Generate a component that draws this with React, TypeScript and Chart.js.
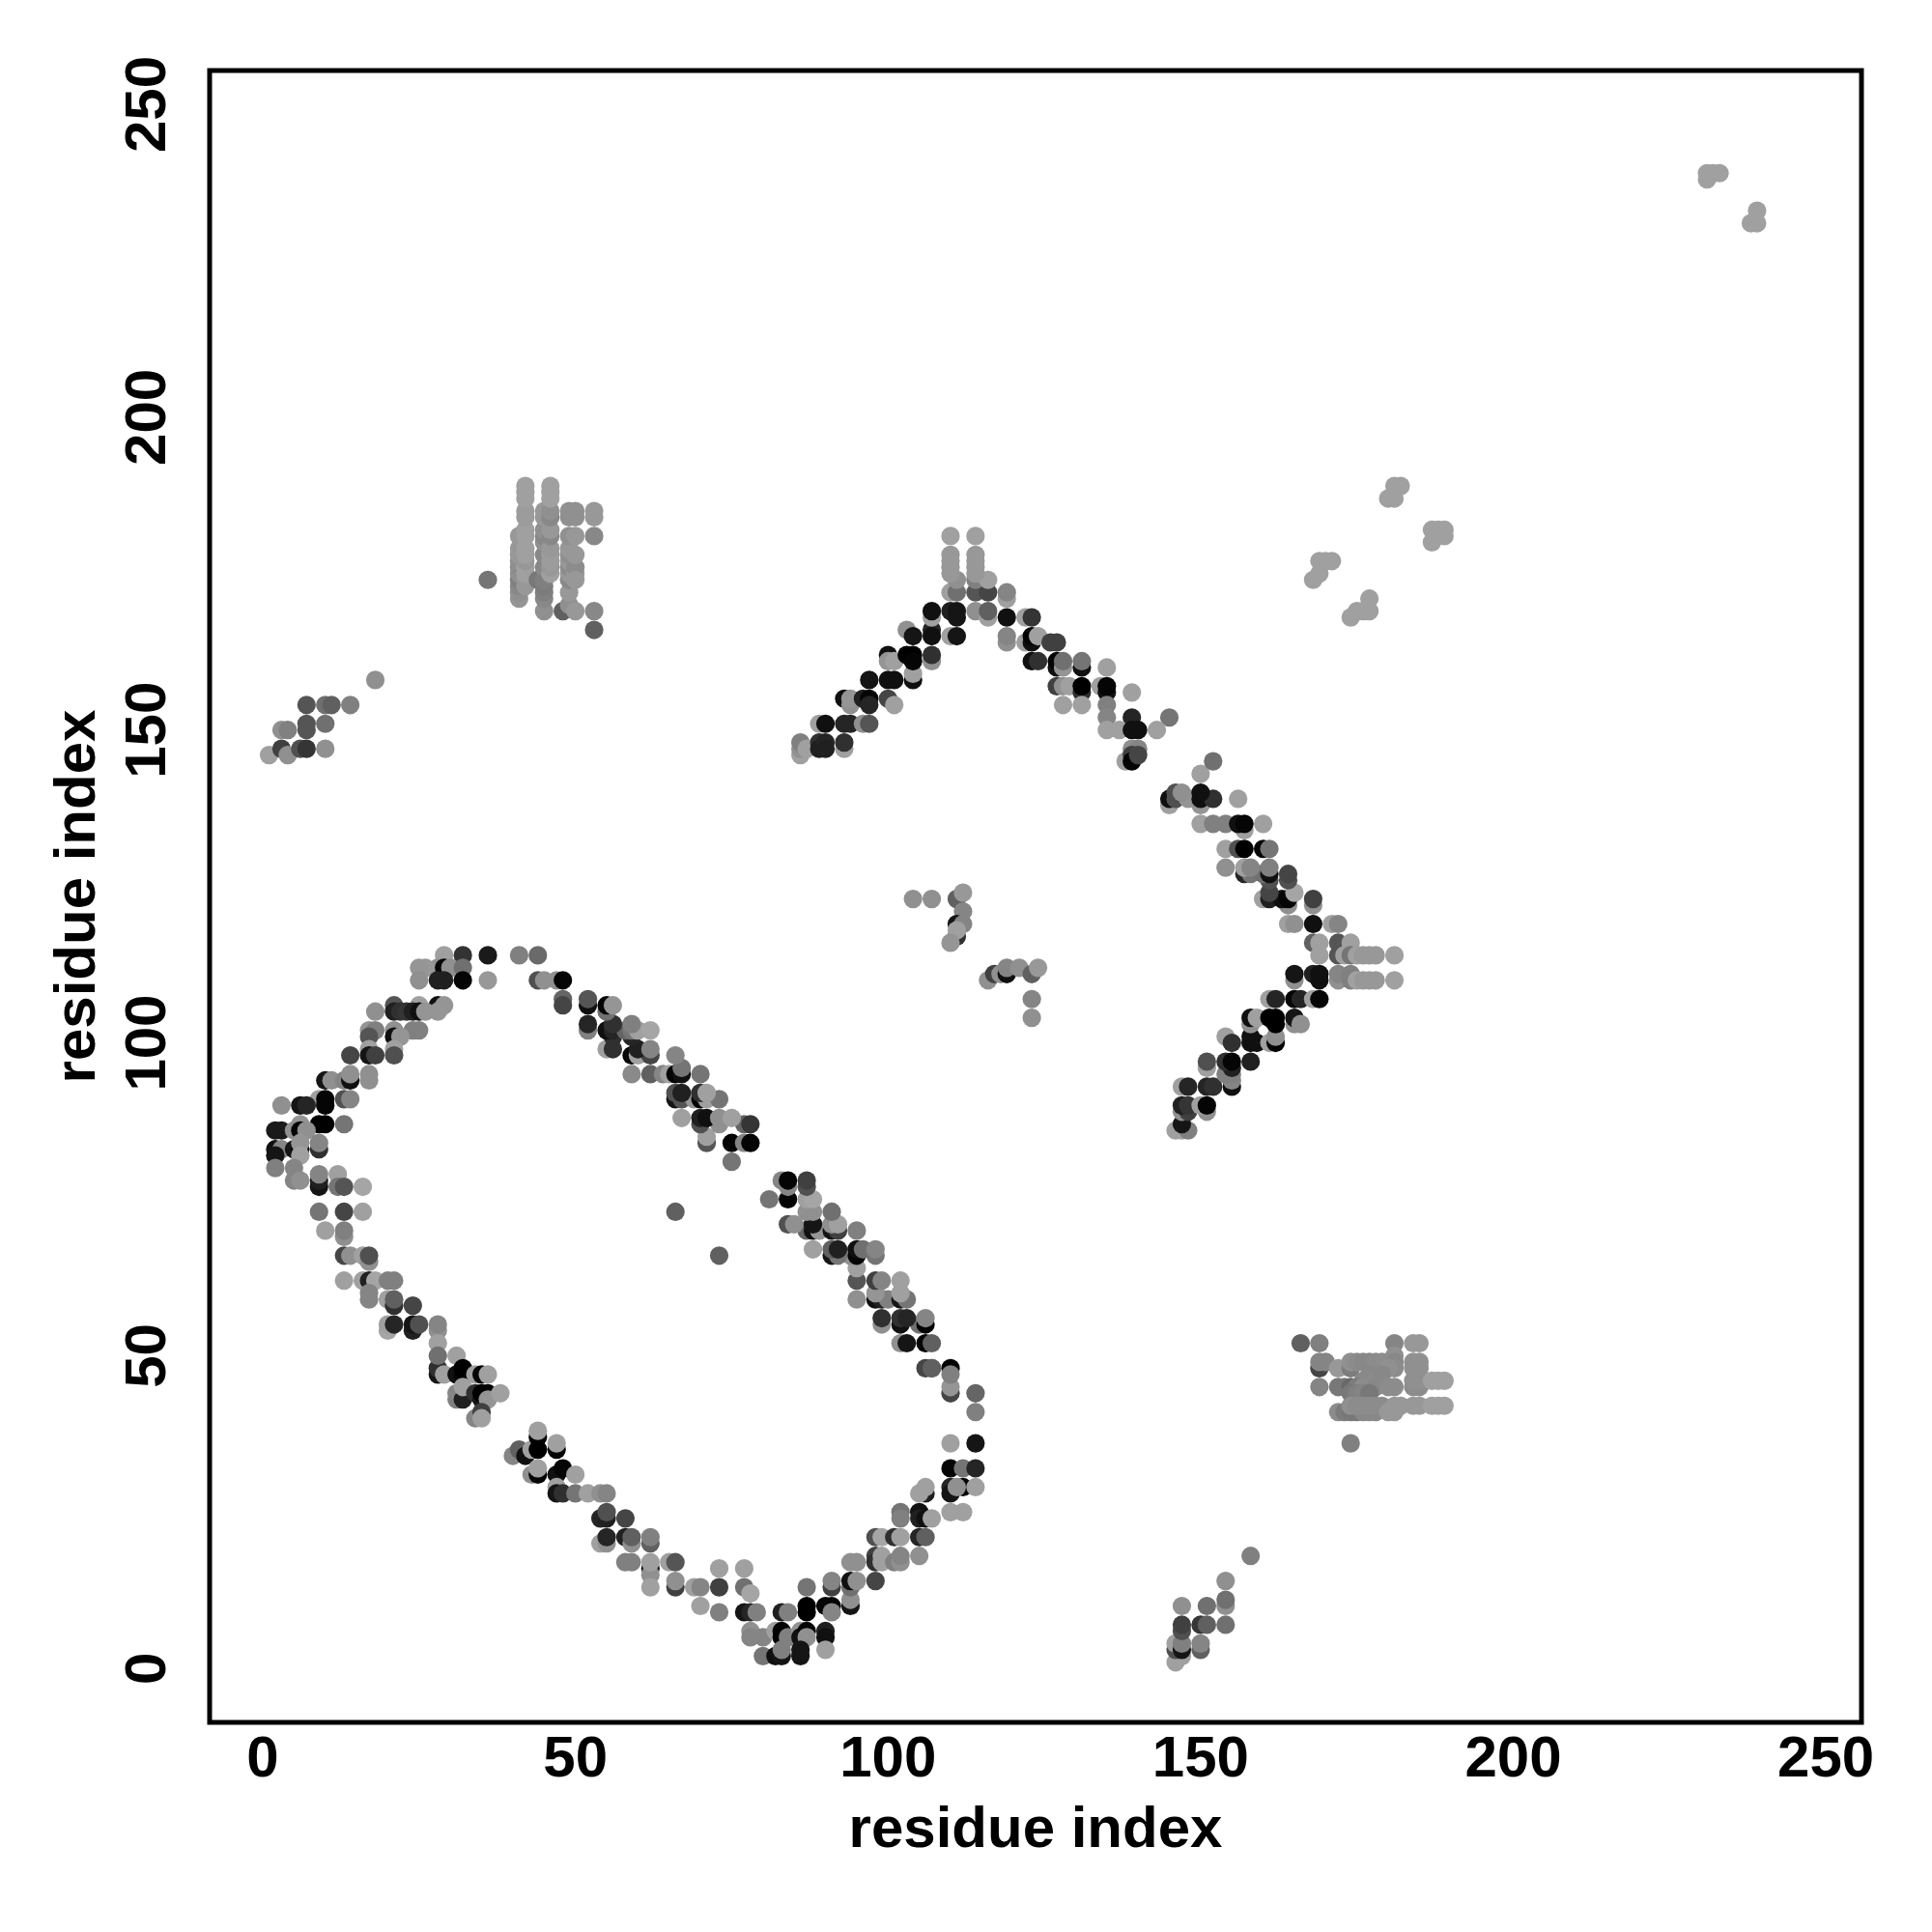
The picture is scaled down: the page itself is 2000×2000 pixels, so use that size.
import React, { useEffect, useRef } from "react";
import { Chart, registerables } from "chart.js";

Chart.register(...registerables);

type P = [number, number, number];

const tickValues = [0, 50, 100, 150, 200, 250];
const axisTitle = "residue index";

const leftUpperArc: P[] = [
[29,114,0xa0],[32,114,0x33],[36,114,0x1a],[41,114,0x80],[44,114,0x6a],
[28,112,0x90],[29,112,0x05],[30,112,0x90],[26,112,0x98],[25,112,0x95],[32,112,0x70],
[28,110,0x20],[29,110,0x20],[25,110,0x90],[32,110,0x05],[36,110,0x98],[44,110,0x50],[45,110,0x90],[47,110,0x90],[48,110,0x05],
[48,107,0x65],[48,106,0x45],[21,106,0x55],[28,106,0x10],[29,106,0x95],[25,106,0xa0],
[18,105,0x90],[21,105,0x20],[22,105,0x30],[23,105,0x35],[24,105,0x20],[25,105,0x10],[26,105,0x95],[28,105,0x95],
[17,102,0x95],[18,102,0x80],[21,102,0x90],[24,102,0x80],[25,102,0x80],
[17,101,0x55],[21,101,0x10],[22,101,0x95],
[17,99,0xa0],[21,99,0xa0],[14,98,0x45],[17,98,0x15],[18,98,0x40],[21,98,0x50],
[10,94,0x15],[11,94,0x90],[13,94,0x85],[14,94,0x10],[17,94,0x90],[14,95,0x90],[17,95,0x90],
[9,91,0xa0],[10,91,0x05],[13,91,0x50],[14,91,0x85],[3,90,0x90],[6,90,0x15],[7,90,0x25],[10,90,0x05],
[13,87,0x75],[9,87,0x00],[10,87,0x00],[6,87,0x95],[2,86,0x1a],[3,86,0x1a],[5,86,0x90],[6,86,0x05],[7,86,0x90],
[2,83,0x10],[3,83,0x85],[5,83,0x15],[6,83,0x05],[9,83,0x30],[9,84,0x85],[6,84,0x95],[2,82,0x15],[6,82,0xa0],
[2,80,0x80],[5,80,0x85],[5,78,0x85],[6,78,0x90],[9,77,0x15],[9,78,0x20],[9,79,0x85],[12,79,0xa0],[12,77,0x75],[13,77,0x55],[16,77,0xa5],
[9,73,0x75],[13,73,0x45],[16,73,0xa0],[10,70,0xa0],[13,69,0x90],[13,70,0x80],
[13,66,0x45],[14,66,0x90],[16,66,0xa0],[17,65,0x90],[17,66,0x50],
];

const leftLowerArc: P[] = [
[13,62,0xa0],[16,62,0xa0],[17,62,0x20],[18,62,0xa5],[20,62,0x80],[21,62,0x80],
[17,60,0x85],[17,59,0x85],[20,59,0xa0],[21,58,0x30],[21,59,0x60],[24,58,0x45],
[20,54,0xa5],[20,55,0xa0],[21,55,0x25],[24,54,0x20],[24,55,0x15],[25,55,0x50],
[28,54,0x90],[28,55,0x85],[28,52,0xa0],[28,47,0x15],[28,48,0x30],[28,50,0x70],[29,47,0xa0],
[31,50,0xa0],[31,47,0x10],[32,47,0x05],[32,48,0x00],[34,47,0xa0],[35,47,0x05],[36,47,0xa0],
[31,43,0x80],[31,44,0x85],[32,43,0x20],[32,45,0xa0],[34,44,0x30],[35,43,0x15],[35,44,0x00],[36,44,0x00],[36,43,0x95],[38,44,0xa0],
[34,40,0x85],[35,41,0x40],[35,40,0xa0],
[40,34,0x85],[41,35,0x60],[42,34,0x10],[43,35,0xa0],[44,37,0x05],[44,35,0x00],[44,38,0xa0],[47,35,0x05],[47,36,0xa0],
[43,31,0x90],[44,31,0x05],[44,32,0xa0],[47,31,0x10],[48,32,0x05],[50,31,0xa0],
[47,29,0xa0],[47,28,0x15],[48,28,0x30],[50,28,0x75],[52,28,0xa0],[54,28,0x90],[55,28,0x85],
[54,24,0x25],[55,24,0x20],[55,25,0x50],[58,24,0x45],
[54,20,0xa0],[55,20,0x90],[55,21,0x25],[58,21,0x20],[59,20,0x90],[59,21,0x60],[62,20,0x60],[62,21,0x80],
[58,17,0x80],[59,17,0x80],[62,16,0x15],[62,15,0x90],[62,17,0xa0],[65,17,0xa0],[66,17,0x55],[62,13,0xa0],
[66,13,0x40],[66,14,0x90],[69,13,0xa0],[70,13,0x85],[73,13,0x40],[73,16,0xa0],[77,16,0xa0],[77,13,0x70],[78,12,0xa5],
[70,10,0xa0],[73,9,0x80],[77,9,0x15],[78,9,0x25],[79,9,0x80],
];

const bottomTurn: P[] = [
[83,9,0x20],[84,9,0x80],[87,13,0x75],[91,13,0x40],[91,14,0x85],
[87,9,0x00],[87,10,0x00],[90,10,0x05],[91,10,0x05],[91,9,0x85],
[78,6,0x90],[78,5,0x85],[80,5,0x85],[82,6,0xa0],[83,6,0x05],[83,5,0x00],[84,5,0x80],[86,6,0x95],[86,5,0x10],[87,6,0x05],[87,5,0x90],[90,6,0x20],[90,5,0x10],
[90,3,0xa0],[80,2,0x75],[82,2,0x10],[83,2,0x15],[86,2,0x15],[86,3,0x15],[83,3,0x80],
[94,10,0x15],[94,11,0x90],[94,13,0x70],[94,14,0x10],[95,14,0x90],[98,14,0x45],[94,17,0x90],[95,17,0x90],
[98,18,0x40],[98,17,0x30],[99,18,0xa0],[99,17,0xa0],[101,17,0x80],[102,17,0x90],[102,18,0x85],[105,18,0x90],
[98,21,0x50],[99,21,0xa5],[101,21,0x30],[102,21,0xa0],[105,21,0x25],[106,21,0x60],
[105,25,0x10],[102,25,0x75],[102,24,0x80],[105,24,0x20],[106,24,0x10],[107,24,0xa0],
[106,28,0x20],[105,28,0xa0],[106,29,0xa0],
[110,29,0x25],[110,28,0x15],[112,29,0x05],[111,29,0x90],[114,29,0xa0],[110,25,0xa0],[112,25,0xa0],
[110,32,0x05],[112,32,0x75],[114,32,0x25],[110,36,0xa0],[114,36,0x15],[114,41,0x80],[114,44,0x65],
[110,44,0x45],[110,45,0x95],[106,48,0x45],[107,48,0x60],[110,48,0x05],[110,47,0x80],
];

const midDiagonal: P[] = [
[66,73,0x60],[73,66,0x60],
[107,48,0x60],[106,52,0x05],[107,52,0x60],[102,52,0x90],[103,52,0x15],
[102,55,0x10],[105,55,0x70],[106,55,0x05],[99,55,0x90],[99,56,0x30],[102,56,0x30],[103,56,0x25],[106,56,0x85],
[98,59,0x10],[99,59,0x20],[100,59,0x80],[102,59,0x15],[103,59,0x75],[95,59,0x90],[98,60,0x95],[102,60,0xa0],
[95,62,0x55],[98,62,0x40],[99,62,0x85],[102,62,0xa0],[95,64,0xa0],
[94,66,0x90],[91,66,0x15],[92,66,0x75],[95,66,0x05],[91,67,0x60],[92,67,0x20],[95,67,0x10],[96,67,0x70],[98,66,0x75],[98,67,0x85],[88,67,0xa0],
[87,70,0x65],[88,70,0x10],[89,70,0x95],[91,70,0x15],[92,70,0x40],[95,70,0x80],[84,71,0x50],[85,71,0x90],[88,71,0x15],[91,71,0x90],[92,71,0xa0],
[87,73,0x90],[88,73,0x90],[91,73,0x70],[81,75,0x75],[84,75,0x05],[87,75,0xa0],[88,75,0xa5],
[84,77,0x85],[87,77,0x50],[83,78,0x85],[84,78,0x05],[87,78,0x40],
[75,81,0x75],[71,84,0x55],[71,85,0xa0],[75,84,0x05],[77,84,0x85],[78,84,0x05],
[70,87,0x50],[73,87,0x90],[77,87,0x65],[78,87,0x35],[67,88,0xa0],[70,88,0x20],[71,88,0x10],[73,88,0x90],[75,88,0xa0],
[66,91,0x15],[67,91,0x55],[69,91,0x95],[70,91,0x05],[71,91,0xa0],[73,91,0x75],[66,92,0x50],[67,92,0x20],[70,92,0x30],[71,92,0xa0],
[59,95,0x8a],[62,95,0x60],[64,95,0x85],[65,95,0xa0],[66,95,0x05],[67,95,0x10],[70,95,0x75],[67,96,0x75],[66,98,0x85],
[59,98,0x05],[60,98,0xa0],[62,98,0x45],[55,99,0xa0],[56,99,0x30],[60,99,0x20],[62,99,0x85],
[56,101,0x30],[59,101,0x25],[52,102,0x80],[55,102,0x10],[56,102,0x25],[58,102,0x65],[59,102,0x75],[60,102,0xa0],[62,102,0xa5],[59,103,0x80],
[52,103,0x25],[56,103,0x30],[55,105,0x70],[52,106,0x10],[55,106,0x05],[56,106,0x95],[52,107,0x55],
];

const rightLowerBand: P[] = [
[146,86,0xa0],[147,86,0xa0],[148,86,0x80],[147,87,0x15],[147,89,0x90],[148,89,0x40],[151,89,0x90],
[147,90,0x20],[148,90,0x35],[150,90,0xa0],[151,90,0x05],[147,93,0xa0],[148,93,0x25],[151,93,0x25],[152,93,0x30],[155,93,0x10],[155,94,0x85],
[154,95,0x80],[155,95,0x80],[151,96,0xa0],[155,96,0x20],[151,97,0x50],[154,97,0x30],[155,97,0x05],[158,97,0x20],
[154,101,0xa0],[155,100,0x30],[158,101,0x10],[158,100,0x10],[159,100,0x10],[161,100,0xa0],[162,100,0x05],[162,101,0x90],
[158,103,0x90],[158,104,0x10],[159,104,0xa0],[161,104,0x00],[162,103,0x00],[162,104,0x00],[165,103,0x90],[165,104,0x15],[166,103,0x90],
[161,107,0xa0],[162,107,0x25],[165,107,0x05],[166,107,0x25],[168,107,0xa0],[169,107,0x05],
[165,110,0x90],[165,111,0x15],[168,111,0x20],[169,110,0x10],[169,111,0x10],
[172,110,0x90],[172,111,0x85],[174,110,0x80],[174,111,0x80],[175,110,0xa0],[176,110,0x98],[177,110,0x98],[178,110,0x98],[181,110,0xa0],
];

const rightUpperBand: P[] = [
[168,116,0x60],[169,116,0xa0],[172,116,0x55],[174,116,0xa0],[169,114,0xa0],[172,114,0x55],[173,114,0xa0],[174,114,0x75],[175,114,0xa0],[176,114,0x98],[177,114,0x98],[178,114,0x98],[181,114,0xa0],
[164,119,0xa0],[165,119,0x90],[168,119,0x10],[171,119,0xa0],[172,119,0x85],
[168,122,0x90],[164,122,0x90],[168,123,0x40],[160,123,0xa0],[161,123,0x20],[163,123,0x10],[164,123,0x05],[165,124,0xa5],[161,124,0x45],
[164,126,0x50],[161,126,0x50],[157,127,0x25],[158,127,0x75],[160,127,0x70],[161,127,0x10],[164,127,0x45],
[154,128,0x90],[157,128,0xa0],[158,128,0x85],[161,128,0x80],
[154,131,0xa0],[156,131,0x50],[157,131,0x00],[160,131,0x05],[161,131,0x75],
[157,134,0xa0],[150,135,0xa0],[152,135,0x80],[154,135,0x80],[156,135,0x10],[157,135,0x05],[160,135,0xa0],
[150,138,0x95],[145,138,0xa0],[145,139,0x10],[146,139,0x50],[148,139,0x95],[150,139,0x10],[152,139,0x30],[156,139,0xa0],
[146,140,0x50],[147,140,0x90],[150,140,0x10],[150,143,0xa0],[152,145,0x70],
];

const peakBand: P[] = [
[86,146,0xa0],[86,147,0x90],[86,148,0x80],[87,147,0xa0],[89,148,0x30],[89,147,0x20],[90,148,0x25],[90,147,0x20],[93,147,0xa0],[93,148,0x30],
[89,151,0xa0],[90,151,0x10],[93,151,0x25],[94,151,0x25],[96,151,0x90],[97,151,0x55],
[93,155,0x10],[94,154,0x90],[94,155,0x95],[96,155,0x20],[97,155,0x05],[97,154,0x25],[100,155,0x45],[101,154,0xa0],
[97,158,0x15],[100,158,0x10],[101,158,0x10],[104,158,0x10],[104,159,0xa0],
[100,162,0x10],[100,161,0x95],[101,161,0xa0],[103,162,0x00],[104,162,0x00],[104,161,0x05],[107,161,0x90],[107,162,0x30],
[103,166,0x90],[104,165,0x15],[107,166,0x25],[107,165,0x10],[110,165,0xa0],[111,165,0x15],
[107,168,0xa0],[107,169,0x10],[110,169,0x20],[111,169,0x15],[111,168,0x15],[114,169,0x90],[116,168,0xa0],[116,169,0x60],
[110,172,0xa0],[111,172,0x70],[114,172,0x55],[116,172,0x45],[111,174,0x90],[114,174,0x80],[116,174,0xa0],
[110,175,0x98],[114,175,0x98],[110,176,0x98],[114,176,0x98],[110,177,0x98],[114,177,0x98],[110,178,0x98],[114,178,0x98],[110,181,0xa0],[114,181,0xa0],
[119,171,0xa0],[119,172,0x85],[119,168,0x10],[119,164,0x90],[119,165,0x85],[122,168,0xa0],[123,168,0x35],
[122,164,0xa0],[123,164,0x10],[123,165,0x05],[124,165,0xa0],[126,164,0x40],[127,164,0x40],
[123,161,0x10],[124,161,0x30],[127,160,0x10],[127,161,0x05],[128,160,0x95],[128,161,0x70],[131,160,0x10],[131,161,0x75],[135,160,0xa0],
[127,157,0x40],[128,157,0x90],[129,157,0xa0],[131,156,0x30],[131,157,0x00],[134,157,0xa0],[135,156,0x10],[135,157,0x05],
[128,154,0xa0],[131,154,0xa0],[135,154,0x80],[139,156,0xa0],[135,152,0x85],[139,152,0x25],[145,152,0x75],
[135,150,0xa0],[137,150,0xa0],[139,150,0x10],[140,150,0x10],[143,150,0xa0],
[139,147,0x90],[140,147,0x85],[138,145,0xa0],[139,146,0x40],[139,145,0x05],[140,146,0x45],
];

const midSmall: P[] = [
[104,123,0x90],[107,123,0x90],[111,123,0x60],[112,124,0x98],[112,121,0x85],[111,119,0x15],[112,119,0x85],[111,117,0x30],[111,118,0xa0],[110,116,0x95],
[116,110,0x90],[117,111,0x40],[118,111,0x90],[119,111,0x10],[119,112,0x85],[121,112,0x90],[123,111,0x60],[124,112,0x98],[123,107,0x85],[123,104,0x90],
];

const topLeftLine: P[] = [
[1,146,0xa0],[3,147,0x40],[4,146,0x90],[6,147,0x50],[7,147,0x35],[10,147,0x90],[3,150,0x90],[4,150,0x80],[7,150,0x55],[7,151,0x55],[10,151,0x70],
[7,154,0x55],[10,154,0x70],[11,154,0x60],[14,154,0x80],[18,158,0x90],
];

const bottomRightLine: P[] = [
[146,1,0xa0],[147,2,0xa0],[146,3,0x50],[146,4,0xa0],[147,3,0x15],[147,4,0x80],[150,3,0x60],[150,4,0x85],
[147,6,0x50],[147,7,0x40],[150,7,0x35],[151,7,0x60],[154,7,0x70],[147,10,0x90],[151,10,0x70],[154,10,0x90],[154,11,0x70],[154,14,0x90],[158,18,0x80],
];

const sheetClusterUpper: P[] = [
[36,174,0x75],
[41,171,0x95],[41,172,0x90],[41,173,0x88],[41,174,0x80],[41,175,0x90],[41,176,0x8c],[41,177,0x90],[41,178,0x98],[41,179,0x98],[41,181,0x98],
[42,173,0x98],[42,174,0x98],[42,175,0xa0],[42,176,0xa0],[42,177,0x98],[42,178,0xa0],[42,179,0xa0],[42,181,0xa0],[42,182,0xa0],[42,184,0x9c],[42,185,0x9c],[42,187,0xa0],[42,188,0xa0],[42,189,0xa0],
[44,174,0x78],[45,169,0x90],[45,171,0x88],[45,172,0x80],[45,173,0x7c],[45,174,0x80],[45,176,0x88],[45,178,0x88],[45,180,0x90],[45,181,0x88],[45,182,0x90],[45,184,0x98],[45,185,0x98],
[46,175,0xa0],[46,176,0x98],[46,177,0x9c],[46,178,0x9c],[46,179,0x98],[46,181,0x88],[46,182,0x98],[46,184,0x88],[46,185,0x90],[46,187,0xa0],[46,188,0xa0],[46,189,0xa0],
[48,169,0x60],[49,170,0x90],[49,172,0x98],[49,174,0x88],[49,175,0x98],[49,176,0x8c],[49,177,0x98],[49,178,0x90],[49,179,0x98],[49,181,0x90],[49,184,0x90],[49,185,0x90],
[50,175,0x98],[50,176,0x8c],[50,178,0x98],[50,181,0x98],[50,184,0x90],[50,185,0x90],[50,169,0x98],[50,174,0x98],
[53,166,0x60],[53,169,0x88],[53,181,0x88],[53,184,0x98],[53,185,0x98],
];

const sheetClusterLower: P[] = [
[166,52,0x60],[169,52,0x80],[181,52,0x85],[184,52,0x98],[185,52,0x98],
[169,48,0x45],[169,49,0x85],[170,49,0x85],[172,48,0x98],[174,48,0x7c],[174,49,0x90],[175,49,0x8c],[176,49,0x88],[177,49,0x88],[178,49,0x8c],[179,49,0x8c],[181,50,0x90],[181,49,0x88],[181,48,0x8c],[180,48,0x90],[184,49,0x90],[185,49,0x90],[184,48,0x90],[185,48,0x90],
[176,46,0x88],[177,47,0x88],[178,46,0x8c],[179,47,0x88],
[169,45,0x85],[172,45,0x78],[173,45,0x78],[174,45,0x68],[175,45,0x7c],[176,45,0x8c],[177,45,0x8c],[178,45,0x88],[174,44,0x78],[175,44,0x80],[176,44,0x84],[177,44,0x78],[180,45,0x8c],[181,45,0x8c],
[184,45,0x8c],[185,45,0x8c],[184,46,0x90],[185,46,0x90],[187,46,0xa0],[188,46,0xa0],[189,46,0xa0],
[172,41,0x8c],[173,41,0x7c],[174,41,0x78],[175,41,0x78],[176,41,0x88],[177,41,0x88],[178,41,0x88],[174,42,0x90],[175,42,0x8c],[176,42,0x8c],[177,42,0x8c],[178,42,0x8c],[179,42,0x8c],[180,41,0x98],[181,41,0x98],[181,42,0x98],[182,42,0x98],
[184,42,0x98],[185,42,0x98],[187,42,0xa0],[188,42,0xa0],[189,42,0xa0],[174,36,0x80],
];

const upperRightPairs: P[] = [
[231,238,0xa0],[231,239,0xa0],[232,239,0xa0],[233,239,0xa0],[238,231,0xa0],[239,231,0xa0],[239,233,0xa0],
[168,174,0xa0],[169,175,0xa0],[169,177,0xa0],[170,177,0xa0],[171,177,0xa0],
[174,168,0xa0],[175,169,0xa0],[176,169,0xa0],[177,169,0xa0],[177,171,0xa0],
[180,187,0xa0],[181,187,0xa0],[181,189,0xa0],[182,189,0xa0],
[187,180,0xa0],[187,182,0xa0],[188,182,0xa0],[189,181,0xa0],[189,182,0xa0],
];

const groups: P[][] = [
  leftUpperArc, leftLowerArc, bottomTurn, midDiagonal, rightLowerBand, rightUpperBand,
  peakBand, midSmall, topLeftLine, bottomRightLine, sheetClusterUpper, sheetClusterLower, upperRightPairs,
];

const gray = (v: number) => `rgb(${v},${v},${v})`;

const boxPlugin = {
  id: "box",
  afterDraw(chart: any) {
    const { ctx, chartArea: a } = chart;
    ctx.save();
    ctx.strokeStyle = "#000";
    ctx.lineWidth = 5;
    ctx.strokeRect(a.left, a.top, a.right - a.left, a.bottom - a.top);
    ctx.restore();
  },
};

export default function App() {
  const ref = useRef<HTMLCanvasElement>(null);
  useEffect(() => {
    const tickFont = { family: "'Liberation Sans'", size: 60, weight: "bold" as const };
    const titleFont = { family: "'Liberation Sans'", size: 60, weight: "bold" as const };
    const setTicks = (s: any) => {
      s.ticks = tickValues.map((value) => ({ value }));
    };
    const chart = new Chart(ref.current!, {
      type: "scatter",
      data: {
        datasets: groups.map((g) => ({
          data: g.map(([x, y]) => ({ x, y })),
          pointBackgroundColor: g.map(([, , v]) => gray(v)),
          pointBorderWidth: 0,
          pointRadius: 9.6,
        })),
      },
      options: {
        animation: false,
        responsive: false,
        devicePixelRatio: 1,
        layout: { padding: { top: 73, right: 73, left: 0, bottom: 0 } },
        plugins: { legend: { display: false }, tooltip: { enabled: false } },
        scales: {
          x: {
            type: "linear",
            min: -8.5,
            max: 255.7,
            grid: { display: false },
            border: { display: false },
            afterBuildTicks: setTicks,
            afterFit: (s: any) => { s.height = 217; },
            ticks: { font: tickFont, color: "#000", padding: -5, maxRotation: 0, autoSkip: false },
            title: { display: true, text: axisTitle, font: titleFont, color: "#000", padding: { top: 0, bottom: 69 } },
          },
          y: {
            type: "linear",
            min: -8.6,
            max: 255.4,
            grid: { display: false },
            border: { display: false },
            afterBuildTicks: setTicks,
            afterFit: (s: any) => { s.width = 217; },
            ticks: { font: tickFont, color: "#000", padding: 4, minRotation: 90, maxRotation: 90, crossAlign: "center", autoSkip: false },
            title: { display: true, text: axisTitle, font: titleFont, color: "#000", padding: { top: 45, bottom: 0 } },
          },
        },
      },
      plugins: [boxPlugin],
    } as any);
    return () => chart.destroy();
  }, []);
  return (
    <div style={{ position: "absolute", left: 0, top: 0, width: 2000, height: 2000, background: "#fff" }}>
      <canvas ref={ref} width={2000} height={2000} style={{ display: "block" }} />
    </div>
  );
}
